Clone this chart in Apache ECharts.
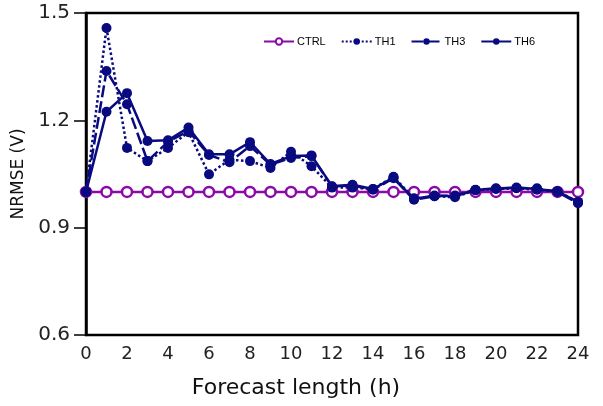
<!DOCTYPE html>
<html>
<head>
<meta charset="utf-8">
<script src="https://cdn.jsdelivr.net/npm/echarts@6/dist/echarts.min.js"></script>
<style>
  html, body { margin: 0; padding: 0; background: #fff; }
  #chart { width: 603px; height: 406px; }
</style>
</head>
<body>
<div id="chart"></div>
<script>
// forecast hours 0..24
var hours = [0,1,2,3,4,5,6,7,8,9,10,11,12,13,14,15,16,17,18,19,20,21,22,23,24];
var ctrl = [1,1,1,1,1,1,1,1,1,1,1,1,1,1,1,1,1,1,1,1,1,1,1,1,1];
var th1 = [1.0,1.458,1.123,1.086,1.123,1.167,1.049,1.09,1.086,1.067,1.112,1.072,1.012,1.012,1.008,1.042,0.982,0.988,0.985,1.005,1.008,1.01,1.006,1.002,0.972];
var th3 = [1.0,1.338,1.245,1.086,1.14,1.17,1.103,1.083,1.128,1.076,1.095,1.1,1.015,1.018,1.006,1.038,0.978,0.988,0.99,1.006,1.01,1.011,1.01,1.0,0.968];
var th6 = [1.0,1.224,1.276,1.142,1.144,1.18,1.105,1.105,1.139,1.078,1.1,1.102,1.016,1.02,1.008,1.04,0.98,0.99,0.988,1.005,1.009,1.012,1.008,1.001,0.972];

function pairs(vals) {
  return hours.map(function (h, i) { return [h, vals[i]]; });
}

var navy = '#0a0a80';
var purple = '#8a0aa8';

function thSeries(name, vals, lineType) {
  return {
    name: name,
    type: 'line',
    data: pairs(vals),
    symbol: 'circle',
    symbolSize: 10,
    lineStyle: { color: navy, width: 2.5, type: lineType },
    itemStyle: { color: navy },
    z: 3
  };
}

var chart = echarts.init(document.getElementById('chart'));
chart.setOption({
  animation: false,
  textStyle: { fontFamily: 'DejaVu Sans' },
  grid: {
    left: 86, right: 25, top: 13, bottom: 71,
    show: true, borderColor: '#000', borderWidth: 2.5
  },
  legend: {
    top: 31, left: 258,
    itemWidth: 30, itemHeight: 8, itemGap: 15,
    textStyle: { fontSize: 11, color: '#000', fontFamily: 'Liberation Sans', padding: [0, 0, 0, -2] },
    data: ['CTRL', 'TH1', 'TH3', 'TH6']
  },
  xAxis: {
    type: 'value', min: 0, max: 24, interval: 2,
    name: 'Forecast length (h)', nameLocation: 'middle', nameGap: 42,
    nameTextStyle: { fontSize: 22, color: '#111', padding: [0, 72, 0, 0] },
    axisLine: { show: false },
    axisTick: { show: false },
    splitLine: { show: false },
    axisLabel: { fontSize: 18, color: '#222', margin: 10 }
  },
  yAxis: {
    type: 'value', min: 0.6, max: 1.5, interval: 0.3,
    position: 'left',
    name: 'NRMSE (V)', nameLocation: 'middle', nameGap: 52,
    nameTextStyle: { fontSize: 17, color: '#111' },
    axisLine: { show: true, onZero: false, lineStyle: { color: '#000', width: 2.5 } },
    axisTick: { show: true, length: 12, lineStyle: { color: '#000', width: 1.5 } },
    splitLine: { show: false },
    axisLabel: {
      fontSize: 20, color: '#222', margin: 16,
      formatter: function (v) { return v.toFixed(1); }
    }
  },
  series: [
    {
      name: 'CTRL',
      type: 'line',
      data: pairs(ctrl),
      symbol: 'circle',
      symbolSize: 10,
      lineStyle: { color: purple, width: 2.5 },
      itemStyle: { color: '#fff', borderColor: purple, borderWidth: 2.5 },
      z: 2
    },
    thSeries('TH1', th1, 'dotted'),
    thSeries('TH3', th3, [12, 4]),
    thSeries('TH6', th6, 'solid')
  ]
});
</script>
</body>
</html>
